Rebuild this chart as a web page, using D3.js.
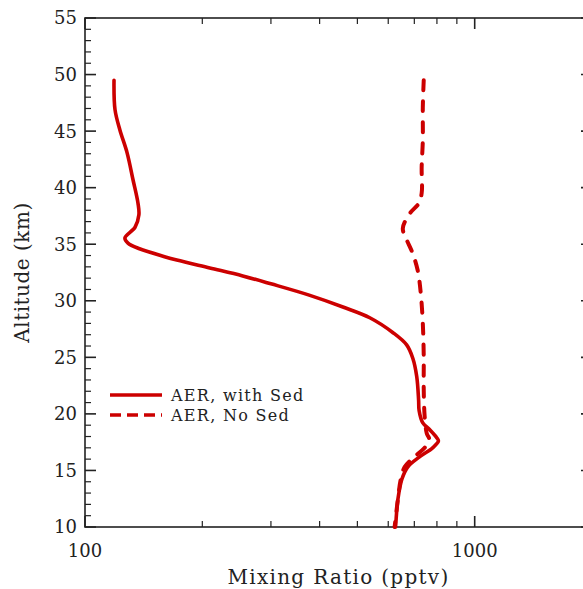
<!DOCTYPE html>
<html>
<head>
<meta charset="utf-8">
<script src="https://cdn.jsdelivr.net/npm/d3@7"></script>
<style>
  html, body { margin: 0; padding: 0; background: #fff; }
  svg { display: block; }
  text { font-family: "DejaVu Serif", "Liberation Serif", serif; fill: #222; }
</style>
</head>
<body>
<svg id="chart" width="583" height="589"></svg>
<script>
// Altitude profiles (km) and mixing ratios (pptv)
const altWithSed = [49.5, 46.9, 45.1, 43.1, 40.7, 38.6, 37.6, 36.5, 35.55, 35.1, 34.6, 33.9, 33.6, 32.9, 32.2, 31.5, 30.5, 29.45, 28.5, 27.2, 26.1, 24.9, 23.3, 21.2, 20.3, 19.2, 18.6, 17.9, 17.6, 17.0, 16.2, 15.3, 14.2, 12.4, 10.2, 10.0];
const valWithSed = [118.7, 119.4, 122.9, 128.2, 132.8, 136.8, 137.5, 134.4, 126.6, 128.9, 138, 160, 172, 209, 254, 300, 376, 459, 538, 616, 669, 694, 710, 718, 720, 736, 767, 799, 807, 780, 722, 673, 650, 635, 627, 626];

const altNoSed = [49.5, 47.1, 44.2, 41.8, 39.5, 38.6, 37.7, 36.4, 35.5, 34.2, 32.7, 30.7, 28.0, 25.1, 22.2, 19.8, 18.3, 17.7, 17.0, 16.2, 15.3, 14.2, 12.4, 10.2, 10.0];
const valNoSed = [740, 736, 736, 731, 731, 718, 681, 654, 667, 693, 714, 727, 736, 740, 740, 744, 753, 765, 744, 700, 661, 646, 635, 624, 623];

const seriesNames = ["AER, with Sed", "AER, No Sed"];
const xTickLabels = ["100", "1000"];
const yTickValues = [10, 15, 20, 25, 30, 35, 40, 45, 50, 55];

const svg = d3.select("#chart");
const m = { left: 85, right: 592, top: 18, bottom: 527 };
const red = "#cc0000";
const ink = "#222";

const x = d3.scaleLog().domain([100, 2000]).range([m.left, m.right]);
const y = d3.scaleLinear().domain([10, 55]).range([m.bottom, m.top]);

// Tick positions
const xMajor = [100, 1000];
const xMinor = d3.range(200, 1000, 100).concat([2000]);
const yMinor = d3.range(10, 56, 1).filter(v => v % 5 !== 0);
const MAJ = 11, MIN = 6;

const ticks = svg.append("g").attr("stroke", ink).attr("stroke-width", 1.2);
// left & right
yMinor.forEach(v => {
  ticks.append("line").attr("x1", m.left).attr("x2", m.left + MIN).attr("y1", y(v)).attr("y2", y(v));
  ticks.append("line").attr("x1", m.right).attr("x2", m.right - MIN).attr("y1", y(v)).attr("y2", y(v));
});
yTickValues.forEach(v => {
  ticks.append("line").attr("x1", m.left).attr("x2", m.left + MAJ).attr("y1", y(v)).attr("y2", y(v)).attr("stroke-width", 1.6);
  ticks.append("line").attr("x1", m.right).attr("x2", m.right - MAJ).attr("y1", y(v)).attr("y2", y(v)).attr("stroke-width", 1.6);
});
// bottom & top
xMinor.forEach(v => {
  ticks.append("line").attr("x1", x(v)).attr("x2", x(v)).attr("y1", m.bottom).attr("y2", m.bottom - MIN);
  ticks.append("line").attr("x1", x(v)).attr("x2", x(v)).attr("y1", m.top).attr("y2", m.top + MIN);
});
xMajor.forEach(v => {
  ticks.append("line").attr("x1", x(v)).attr("x2", x(v)).attr("y1", m.bottom).attr("y2", m.bottom - MAJ).attr("stroke-width", 1.6);
  ticks.append("line").attr("x1", x(v)).attr("x2", x(v)).attr("y1", m.top).attr("y2", m.top + MAJ).attr("stroke-width", 1.6);
});

// Frame
svg.append("rect")
  .attr("x", m.left).attr("y", m.top)
  .attr("width", m.right - m.left).attr("height", m.bottom - m.top)
  .attr("fill", "none").attr("stroke", ink).attr("stroke-width", 1.6);

// Tick labels
svg.append("g").selectAll("text").data(yTickValues).join("text")
  .attr("x", m.left - 8).attr("y", d => y(d)).attr("dy", "0.36em")
  .attr("text-anchor", "end").attr("font-size", 18).text(d => d);

svg.append("g").selectAll("text").data(xMajor).join("text")
  .attr("x", d => x(d)).attr("y", 557)
  .attr("text-anchor", "middle").attr("font-size", 18).text((d, i) => xTickLabels[i]);

// Axis titles
svg.append("text").attr("x", (m.left + m.right) / 2).attr("y", 584)
  .attr("text-anchor", "middle").attr("font-size", 20).attr("letter-spacing", 1.3)
  .text("Mixing Ratio (pptv)");
svg.append("text").attr("transform", `translate(29,${(m.top + m.bottom) / 2}) rotate(-90)`)
  .attr("text-anchor", "middle").attr("font-size", 20).attr("letter-spacing", 0.5)
  .text("Altitude (km)");

// Profiles
const line = d3.line().x(d => x(d[1])).y(d => y(d[0])).curve(d3.curveCatmullRom.alpha(0.5));
const plot = svg.append("g")
  .attr("fill", "none").attr("stroke", red).attr("stroke-linejoin", "round");

plot.append("path").datum(d3.zip(altWithSed, valWithSed))
  .attr("stroke-width", 3.6).attr("stroke-linecap", "round").attr("d", line);
plot.append("path").datum(d3.zip(altNoSed, valNoSed))
  .attr("stroke-width", 4).attr("stroke-dasharray", "10 11").attr("stroke-linecap", "round").attr("d", line);

// Legend
const legend = svg.append("g");
[0, 1].forEach(i => {
  const ly = 395 + i * 20;
  legend.append("line").attr("x1", 110).attr("x2", 162).attr("y1", ly).attr("y2", ly)
    .attr("stroke", red).attr("stroke-width", 3.5)
    .attr("stroke-dasharray", i === 1 ? "11 6" : null);
  legend.append("text").attr("x", 171).attr("y", ly).attr("dy", "0.36em")
    .attr("font-size", 16).attr("letter-spacing", 1.3).text(seriesNames[i]);
});
</script>
</body>
</html>
